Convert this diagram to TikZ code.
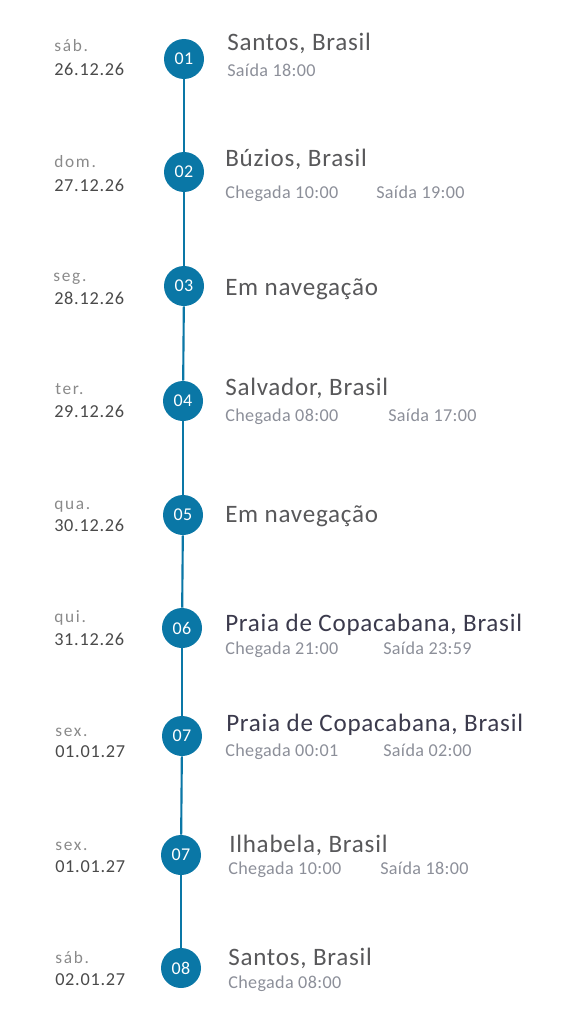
\documentclass[tikz,border=0pt]{standalone}
\usepackage{fontspec}
\setmainfont{Carlito}
\newfontfamily\titlef[LetterSpace=3]{Carlito}
\newfontfamily\subf[LetterSpace=2]{Carlito}
\newfontfamily\dayf[LetterSpace=10]{Carlito}
\newfontfamily\datef[LetterSpace=4]{Carlito}
\definecolor{blu}{HTML}{0A77A6}
\definecolor{tgray}{HTML}{58585A}
\definecolor{tdark}{HTML}{3B3A4C}
\definecolor{sgray}{HTML}{8C8F99}
\definecolor{dgray}{HTML}{8A8A8A}
\definecolor{dtgray}{HTML}{4A4A4A}
\tikzset{
  stop/.style={circle,fill=blu,minimum size=30pt,inner sep=0pt,text=white,font=\subf\fontsize{13.5pt}{15pt}\selectfont},
  ttl/.style={anchor=base west,inner sep=0pt,text=tgray,font=\titlef\fontsize{18.8pt}{22pt}\selectfont},
  ttldark/.style={ttl,text=tdark},
  sub/.style={anchor=base west,inner sep=0pt,text=sgray,font=\subf\fontsize{13.6pt}{16pt}\selectfont},
  day/.style={anchor=base west,inner sep=0pt,text=dgray,font=\dayf\fontsize{13pt}{15pt}\selectfont},
  dat/.style={anchor=base west,inner sep=0pt,text=dtgray,font=\datef\fontsize{13.7pt}{16pt}\selectfont},
  link/.style={draw=blu,line width=1.6pt}
}
\begin{document}
\begin{tikzpicture}[x=0.75pt,y=-0.75pt]
\useasboundingbox (0,0) rectangle (576,1024);
% stops
\node[stop] (s1) at (184,59) {01};
\node[stop] (s2) at (184,172) {02};
\node[stop] (s3) at (184,286) {03};
\node[stop] (s4) at (183,401) {04};
\node[stop] (s5) at (183,515) {05};
\node[stop] (s6) at (182,628) {06};
\node[stop] (s7) at (182,736) {07};
\node[stop] (s7b) at (181,855) {07};
\node[stop] (s8) at (181,968) {08};
\draw[link] (s1) -- (s2);
\draw[link] (s2) -- (s3);
\draw[link] (s3) -- (s4);
\draw[link] (s4) -- (s5);
\draw[link] (s5) -- (s6);
\draw[link] (s6) -- (s7);
\draw[link] (s7) -- (s7b);
\draw[link] (s7b) -- (s8);
% 1
\node[day] (d1) at (54,52) {sáb.};
\node[dat] (t1) at (54,75) {26.12.26};
\node[ttl] (n1) at (227,51) {Santos, Brasil};
\node[sub] (a1) at (227,77) {Saída 18:00};
% 2
\node[day] (d2) at (54,167) {dom.};
\node[dat] (t2) at (54,191) {27.12.26};
\node[ttl] (n2) at (225,166) {Búzios, Brasil};
\node[sub] (a2) at (225,198) {Chegada 10:00};
\node[sub] (b2) at (376,198) {Saída 19:00};
% 3
\node[day] (d3) at (53,281) {seg.};
\node[dat] (t3) at (54,304) {28.12.26};
\node[ttl] (n3) at (225,295) {Em navegação};
% 4
\node[day] (d4) at (55,394) {ter.};
\node[dat] (t4) at (54,417) {29.12.26};
\node[ttl] (n4) at (225,395) {Salvador, Brasil};
\node[sub] (a4) at (225,421) {Chegada 08:00};
\node[sub] (b4) at (388,421) {Saída 17:00};
% 5
\node[day] (d5) at (54,509) {qua.};
\node[dat] (t5) at (54,531) {30.12.26};
\node[ttl] (n5) at (225,522) {Em navegação};
% 6
\node[day] (d6) at (54,622) {qui.};
\node[dat] (t6) at (54,645) {31.12.26};
\node[ttldark] (n6) at (225,631) {Praia de Copacabana, Brasil};
\node[sub] (a6) at (225,654) {Chegada 21:00};
\node[sub] (b6) at (383,654) {Saída 23:59};
% 7
\node[day] (d7) at (55,736) {sex.};
\node[dat] (t7) at (55,757) {01.01.27};
\node[ttldark] (n7) at (226,731) {Praia de Copacabana, Brasil};
\node[sub] (a7) at (225,756) {Chegada 00:01};
\node[sub] (b7) at (383,756) {Saída 02:00};
% 7b
\node[day] (d7b) at (55,850) {sex.};
\node[dat] (t7b) at (55,872) {01.01.27};
\node[ttl] (n7b) at (229,852) {Ilhabela, Brasil};
\node[sub] (a7b) at (228,874) {Chegada 10:00};
\node[sub] (b7b) at (380,874) {Saída 18:00};
% 8
\node[day] (d8) at (55,963) {sáb.};
\node[dat] (t8) at (55,985) {02.01.27};
\node[ttl] (n8) at (228,965) {Santos, Brasil};
\node[sub] (a8) at (228,988) {Chegada 08:00};
\end{tikzpicture}
\end{document}
